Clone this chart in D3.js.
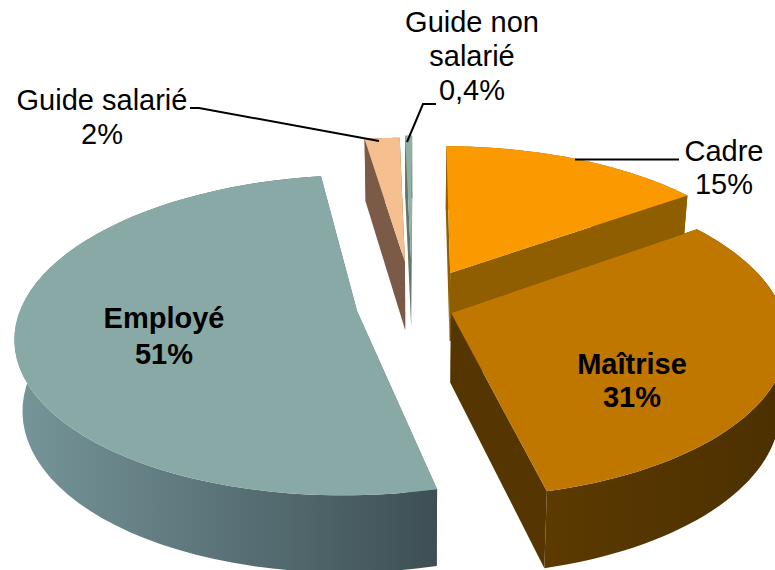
<!DOCTYPE html>
<html><head><meta charset="utf-8">
<script src="https://cdnjs.cloudflare.com/ajax/libs/d3/7.8.5/d3.min.js"></script>
<style>html,body{margin:0;padding:0;background:#fff}svg{display:block}text{font-family:"Liberation Sans",Arial,sans-serif;fill:#000}</style>
</head><body><svg id="c" width="775" height="570"></svg>
<script>
const categories = ["Cadre","Maîtrise","Employé","Guide salarié","Guide non salarié"];
const values = [15,31,51,2,0.4];
const valueLabels = ["15%","31%","51%","2%","0,4%"];

// perspective view of the exploded disc
const view = {vx:419.6, cy:313, R:334.6, S:157, k:0.15, m:0.007, H:70, lean:0.02};
// slice offsets in disc coordinates
const offsets = [{x:0.095,y:-0.265},{x:0.094,y:0},{x:-0.187,y:-0.012},{x:-0.046,y:-0.34},{x:-0.027,y:-0.36}];
const tops  = ["#fa9a00","#c07700","#88a9a6","#f6bf90","#8fb0a2"];
const faces = ["#8f5e00","#553600","#5d7677","#7b5a48","#66736a"];
const wallStops = [["#8f5e00","#8f5e00"],["#5c3a00","#4b3000"],["#76969a","#3d4f54"],["#7b5a48","#7b5a48"],["#66736a","#66736a"]];
const paintOrder = [3,4,0,2,1];

const svg = d3.select("#c");
const defs = svg.append("defs");
const pie = d3.pie().sort(null).value(d=>d)(values);
const line = d3.line();

function project(X,Y,z){
  const w = 1 - view.k*Y + view.m*X;
  const lean = 1 - view.lean*z;
  return [view.vx + view.R*X/w*lean, view.cy + view.S*Y/w + view.H*z/Math.pow(w,0.6)];
}
function rim(i,t,z){
  const o = offsets[i];
  return project(o.x+Math.sin(t), o.y-Math.cos(t), z);
}
function apex(i,z){ return project(offsets[i].x, offsets[i].y, z); }
function closed(pts){ return line(pts)+"Z"; }

paintOrder.forEach(i=>{
  const p = pie[i];
  const ts = d3.range(0,61).map(j=>p.startAngle+(p.endAngle-p.startAngle)*j/60);
  const g = svg.append("g");
  const xs = d3.extent(ts,t=>rim(i,t,0)[0]);
  const grad = defs.append("linearGradient").attr("id","w"+i).attr("gradientUnits","userSpaceOnUse")
    .attr("x1",xs[0]).attr("x2",xs[1]).attr("y1",0).attr("y2",0);
  grad.append("stop").attr("offset",0).attr("stop-color",wallStops[i][0]);
  grad.append("stop").attr("offset",1).attr("stop-color",wallStops[i][1]);
  // radial cut faces
  [p.startAngle,p.endAngle].forEach(t=>{
    g.append("path").attr("d",closed([apex(i,0),rim(i,t,0),rim(i,t,1),apex(i,1)])).attr("fill",faces[i]);
  });
  // outer wall
  const wall = ts.map(t=>rim(i,t,0)).concat(ts.slice().reverse().map(t=>rim(i,t,1)));
  g.append("path").attr("d",closed(wall)).attr("fill",`url(#w${i})`);
  // top
  g.append("path").attr("d",closed([apex(i,0)].concat(ts.map(t=>rim(i,t,0))))).attr("fill",tops[i]);
});

// leaders
const leaders = [
  [[679,159.5],[575,159.5]],
  [[190,108],[199,108],[379,141]],
  [[436,104],[423,104],[407,142]]
];
leaders.forEach(l=>svg.append("path").attr("d",line(l)).attr("fill","none").attr("stroke","#000").attr("stroke-width",2));

// labels
function label(lines,x,ys,bold){
  lines.forEach((s,j)=>svg.append("text").attr("x",x).attr("y",ys[j]).attr("text-anchor","middle")
    .attr("font-size",29).attr("font-weight",bold?"bold":"normal").text(s));
}
label([categories[0],valueLabels[0]],724,[161,194],false);
label([categories[1],valueLabels[1]],632,[374,407],true);
label([categories[2],valueLabels[2]],164,[328,364],true);
label([categories[3],valueLabels[3]],102,[110,144],false);
label(["Guide non","salarié",valueLabels[4]],472,[32,66,100],false);
</script></body></html>
